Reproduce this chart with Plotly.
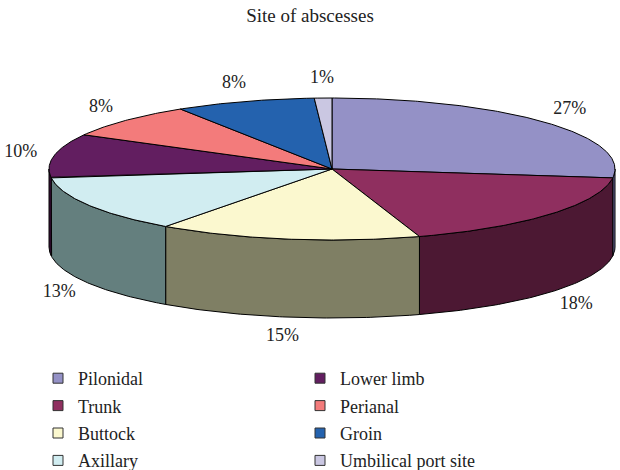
import numpy as np
import plotly.graph_objects as go

categories = ["Pilonidal", "Trunk", "Buttock", "Axillary", "Lower limb", "Perianal", "Groin", "Umbilical port site"]
values = [27, 18, 15, 13, 10, 8, 8, 1]
labels = ["27%", "18%", "15%", "13%", "10%", "8%", "8%", "1%"]
top_colors = ["#9491C6", "#8F2F5F", "#FBF8CF", "#D1EDF1", "#621E60", "#F37B7B", "#2462AE", "#CAC7E2"]
side_colors = ["#6B699A", "#4C1833", "#7F7F64", "#647F7E", "#3A0F38", "#B05858", "#183F74", "#8F8CA8"]

# geometry of the 3D pie (pixel space)
CX, CY, RX, RY, DEPTH = 332, 169, 283, 71, 78
FONT = "Liberation Serif, Times New Roman, serif"


def pt(a_deg, dy=0.0):
    a = np.radians(a_deg)
    return CX + RX * np.sin(a), CY - RY * np.cos(a) + dy


total = float(sum(values))
fig = go.Figure()

starts = []
acc = 0.0
for v in values:
    starts.append(acc / total * 360.0)
    acc += v
ends = [s + v / total * 360.0 for s, v in zip(starts, values)]

# side faces (front half only: 90..270 deg)
for i in range(len(values)):
    a1, a2 = max(starts[i], 90.0), min(ends[i], 270.0)
    if a2 <= a1:
        continue
    t = np.linspace(a1, a2, 80)
    xt, yt = pt(t)
    xb, yb = pt(t[::-1], DEPTH)
    xs = np.concatenate([xt, xb, xt[:1]])
    ys = np.concatenate([yt, yb, yt[:1]])
    fig.add_trace(go.Scatter(x=xs, y=ys, mode="lines", fill="toself",
                             fillcolor=side_colors[i], line=dict(color="black", width=1),
                             showlegend=False, hoverinfo="skip"))

# top faces
for i in range(len(values)):
    t = np.linspace(starts[i], ends[i], max(int((ends[i] - starts[i]) * 2), 4))
    xt, yt = pt(t)
    xs = np.concatenate([[CX], xt, [CX]])
    ys = np.concatenate([[CY], yt, [CY]])
    fig.add_trace(go.Scatter(x=xs, y=ys, mode="lines", fill="toself",
                             fillcolor=top_colors[i], line=dict(color="black", width=1),
                             name=categories[i], showlegend=False,
                             hovertemplate=categories[i] + ": " + labels[i] + "<extra></extra>"))

# percentage labels
mids = np.radians([(s + e) / 2 for s, e in zip(starts, ends)])
lx = CX + RX * 1.12 * np.sin(mids)
ly = CY - RY * 1.27 * np.cos(mids) + np.where(np.cos(mids) < 0, DEPTH, 0)
fig.add_trace(go.Scatter(x=lx, y=ly, mode="text", text=labels, textposition="middle center",
                         textfont=dict(family=FONT, size=18, color="#222222"),
                         showlegend=False, hoverinfo="skip"))

# legend entries
for i, c in enumerate(categories):
    fig.add_trace(go.Scatter(x=[None], y=[None], mode="markers", name=c,
                             marker=dict(symbol="square", size=10, color=top_colors[i],
                                         line=dict(color="#333333", width=1)),
                             legend="legend" if i < 4 else "legend2",
                             legendgroup=c, showlegend=True))

legend_common = dict(font=dict(family=FONT, size=18, color="#222222"),
                     bgcolor="rgba(0,0,0,0)", traceorder="grouped", tracegroupgap=1,
                     yanchor="top", xanchor="left", itemclick=False, itemdoubleclick=False)

fig.update_layout(
    width=620, height=470,
    margin=dict(l=0, r=0, t=0, b=0, autoexpand=False),
    paper_bgcolor="white", plot_bgcolor="white",
    title=dict(text="Site of abscesses", x=0.5, xanchor="center", y=1 - 15 / 470, yanchor="middle",
               font=dict(family=FONT, size=19, color="#222222")),
    xaxis=dict(range=[0, 620], visible=False, fixedrange=True),
    yaxis=dict(range=[470, 0], visible=False, fixedrange=True),
    legend=dict(x=38 / 620, y=1 - 360 / 470, **legend_common),
    legend2=dict(x=300 / 620, y=1 - 360 / 470, **legend_common),
    showlegend=True,
)

fig.write_html("out.html", config={"displayModeBar": False},
               post_script="document.body.style.margin='0';")
